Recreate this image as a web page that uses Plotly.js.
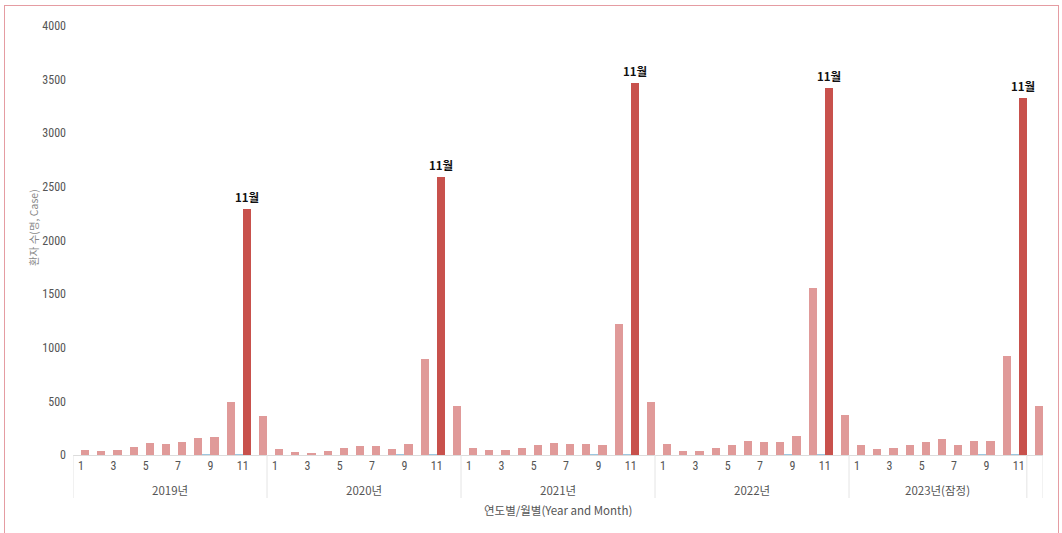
<!DOCTYPE html>
<html>
<head>
<meta charset="utf-8">
<script src="https://cdn.plot.ly/plotly-3.0.1.min.js"></script>
<style>
  html, body { margin: 0; padding: 0; background: #fff; }
  #wrap { position: relative; width: 1062px; height: 533px; overflow: hidden; }
  #chart { position: absolute; left: 0; top: 0; width: 1062px; height: 533px; }
  #frame { position: absolute; left: 4px; top: 5px; width: 1053px; height: 600px;
           border: 1.5px solid #e59ca2; pointer-events: none; }
</style>
</head>
<body>
<div id="wrap">
  <div id="chart"></div>
  <div id="frame"></div>
</div>
<script>
// ---- data ----
const groupLabels = ["2019년", "2020년", "2021년", "2022년", "2023년(잠정)", ""];
const groupMonths = [
  [1,2,3,4,5,6,7,8,9,10,11,12],
  [1,2,3,4,5,6,7,8,9,10,11,12],
  [1,2,3,4,5,6,7,8,9,10,11,12],
  [1,2,3,4,5,6,7,8,9,10,11,12],
  [1,2,3,4,5,6,7,8,9,10,11],
  [12]
];
const cases2019 = [47, 34, 47, 75, 109, 103, 118, 155, 168, 490, 2290, 360];
const cases2020 = [53, 28, 22, 40, 68, 81, 81, 53, 103, 895, 2595, 457];
const cases2021 = [68, 44, 50, 68, 96, 109, 103, 103, 96, 1225, 3470, 495];
const cases2022 = [103, 40, 34, 65, 96, 130, 124, 124, 177, 1555, 3425, 372];
const cases2023 = [96, 53, 68, 96, 118, 149, 96, 130, 130, 925, 3330];
const cases2023Dec = [458];
const minor2019 = [0, 0, 0, 0, 0, 0, 0, 0, 8, 0, 8, 0];
const minor2020 = [0, 0, 0, 0, 0, 0, 0, 0, 8, 0, 8, 0];
const minor2021 = [0, 0, 0, 0, 0, 0, 0, 0, 8, 0, 8, 0];
const minor2022 = [0, 0, 0, 0, 0, 0, 0, 0, 8, 0, 8, 0];
const minor2023 = [0, 0, 0, 0, 0, 0, 0, 0, 8, 0, 8];
const minor2023Dec = [0];
const highlightMonth = 11;
const highlightLabel = "11월";
const yTicks = [0, 500, 1000, 1500, 2000, 2500, 3000, 3500, 4000];
const xTitle = "연도별/월별(Year and Month)";
const yTitle = "환자 수(명, Case)";

// ---- build ----
const groupCases = [cases2019, cases2020, cases2021, cases2022, cases2023, cases2023Dec];
const groupMinor = [minor2019, minor2020, minor2021, minor2022, minor2023, minor2023Dec];

const xs = [], ys = [], ysMinor = [], colors = [], monthOf = [];
const tickvals = [], ticktext = [];
const boundaries = [-0.5];
const groupCenters = [];
let idx = 0;
groupMonths.forEach((months, g) => {
  const start = idx;
  months.forEach((m, k) => {
    xs.push(idx);
    ys.push(groupCases[g][k]);
    ysMinor.push(groupMinor[g][k]);
    colors.push(m === highlightMonth ? "#c8514c" : "#e09a99");
    monthOf.push(m);
    if (m % 2 === 1 && groupLabels[g] !== "") { tickvals.push(idx); ticktext.push(String(m)); }
    idx++;
  });
  boundaries.push(idx - 0.5);
  groupCenters.push((start + idx - 1) / 2);
});

const FONT = "'Liberation Sans Narrow', 'Roboto Condensed', Roboto, 'Noto Sans CJK KR', sans-serif";
const KFONT = "'Noto Sans CJK KR', Roboto, sans-serif";

const traces = [
  { type: "bar", x: xs, y: ysMinor, marker: { color: "#9cc6df" }, hoverinfo: "skip", showlegend: false },
  { type: "bar", x: xs, y: ys, marker: { color: colors }, showlegend: false }
];

const Ltop = 26, Lbottom = 455, Lleft = 73, Lright = 1043;
const plotH = Lbottom - Ltop, plotW = Lright - Lleft;
const py = (pix) => (Lbottom - pix) / plotH;
const px = (pix) => (pix - Lleft) / plotW;

const shapes = boundaries.map(b => ({
  type: "line", xref: "x", yref: "paper", x0: b, x1: b, y0: 0, y1: py(498),
  line: { color: "#e4e4e4", width: 1 }
}));

const annotations = [];
groupLabels.forEach((lab, g) => {
  if (lab === "") return;
  annotations.push({ x: groupCenters[g], y: py(490), xref: "x", yref: "paper", text: lab,
    showarrow: false, font: { family: KFONT, size: 11.5, color: "#555" }, yanchor: "middle" });
});
xs.forEach((x, i) => {
  if (monthOf[i] === highlightMonth) {
    annotations.push({ x: x + 0.25, y: ys[i], xref: "x", yref: "y", text: highlightLabel,
      showarrow: false, yanchor: "bottom", yshift: 2,
      font: { family: KFONT, size: 11.5, color: "#111", weight: "bold" } });
  }
});
annotations.push({ x: 0.5, y: py(510), xref: "paper", yref: "paper", text: xTitle, showarrow: false,
  font: { family: KFONT, size: 11.5, color: "#555" }, yanchor: "middle" });
annotations.push({ x: px(33), y: py(228), xref: "paper", yref: "paper", text: yTitle, showarrow: false,
  xanchor: "center", yanchor: "middle",
  textangle: -90, font: { family: KFONT, size: 10.5, color: "#888" } });

const layout = {
  width: 1062, height: 533,
  margin: { l: Lleft, r: 1062 - Lright, t: Ltop, b: 533 - Lbottom },
  paper_bgcolor: "#fff", plot_bgcolor: "#fff",
  barmode: "group", bargap: 0.0, bargroupgap: 0.0,
  font: { family: FONT, size: 12, color: "#555" },
  xaxis: {
    type: "linear", range: [-0.5, idx - 0.5], tickvals: tickvals, ticktext: ticktext,
    showgrid: false, zeroline: false, showline: true, linecolor: "#dcdcdc", linewidth: 1,
    ticks: "", tickfont: { family: FONT, size: 12, color: "#555" }, fixedrange: true
  },
  yaxis: {
    range: [0, 4000], tickvals: yTicks, ticktext: yTicks.map(String),
    showgrid: false, zeroline: false, showline: false, ticks: "",
    tickfont: { family: FONT, size: 12, color: "#555" }, ticklabelstandoff: 6
  },
  shapes: shapes,
  annotations: annotations,
  showlegend: false
};

Plotly.newPlot("chart", traces, layout, { displayModeBar: false, staticPlot: true });
</script>
</body>
</html>
